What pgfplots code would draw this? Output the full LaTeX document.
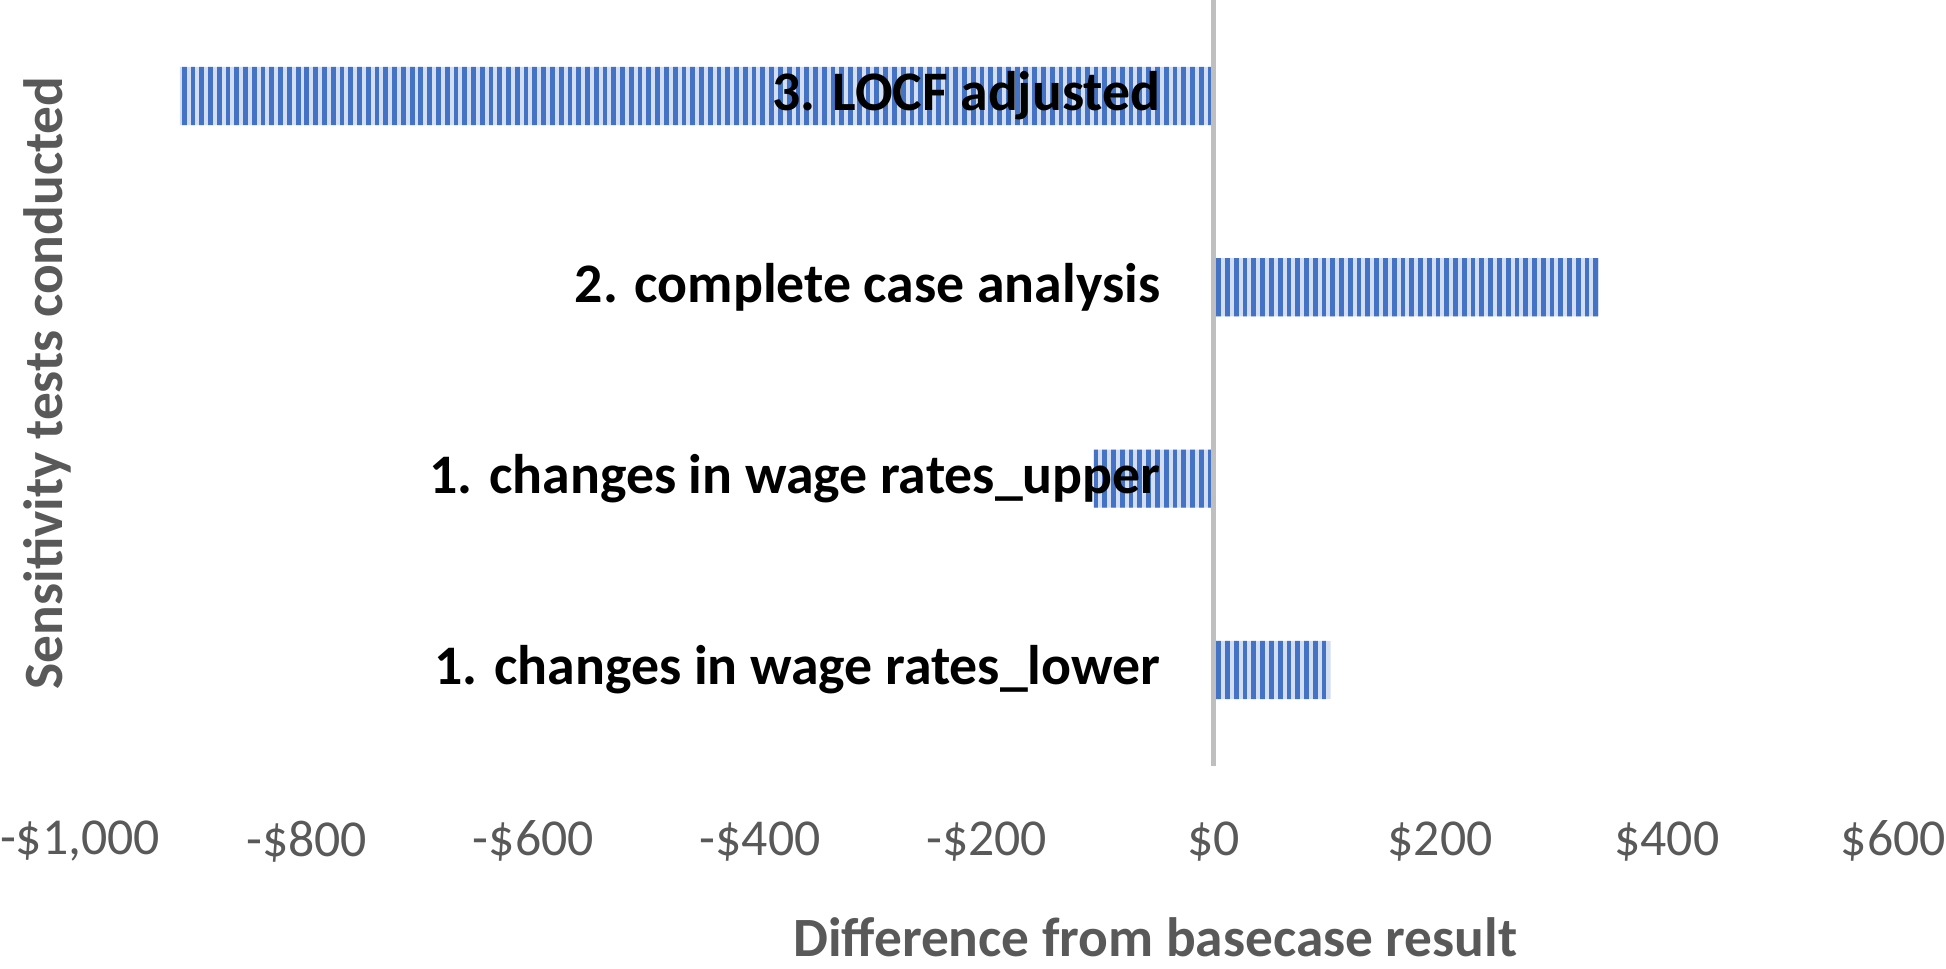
\documentclass[border=0pt]{standalone}
\usepackage{fontspec}
\setmainfont{Carlito}
\usepackage{pgfplots}
\pgfplotsset{compat=1.18}
\usetikzlibrary{patterns.meta}
\definecolor{barblue}{HTML}{4472C4}
\definecolor{barlight}{HTML}{D3DEF3}
\definecolor{axgray}{HTML}{595959}
\definecolor{zerogray}{HTML}{BFBFBF}

\begin{document}
\begin{tikzpicture}
  \begin{axis}[
      scale only axis,
      width=455pt, height=192pt,
      xmin=-1000, xmax=600,
      ymin=-0.5, ymax=3.5,
      axis line style={draw=none},
      major tick length=0pt,
      ytick=\empty,
      xtick={-1000,-800,-600,-400,-200,0,200,400,600},
      xticklabels={{-\$1,000},{-\$800},{-\$600},{-\$400},{-\$200},{\$0},{\$200},{\$400},{\$600}},
      xticklabel style={text=axgray, font=\fontsize{13}{15}\selectfont, anchor=center,
        inner sep=0pt, yshift=-19pt},
      xlabel={Difference from basecase result},
      xlabel style={at={(axis description cs:0.593,0)}, anchor=center, inner sep=3pt, yshift=-43pt,
        text=axgray, font=\bfseries\fontsize{13.9}{16}\selectfont},
      ylabel={Sensitivity tests conducted},
      ylabel style={at={(axis description cs:-0.018,0.5)}, anchor=center, inner sep=0pt,
        text=axgray, font=\bfseries\fontsize{13.9}{16}\selectfont},
    ]
    \addplot[xbar, bar width=14.6pt, bar shift=0pt, draw=none, fill=barlight,
      postaction={pattern={Lines[angle=90, distance=2.2pt, line width=1.2pt]}, pattern color=barblue}]
      coordinates {(103,0) (-106,1) (340,2) (-912,3)};
    \addplot[zerogray, line width=1.2pt] coordinates {(0,-0.5) (0,3.5)};
    \node[anchor=east, inner sep=0pt, font=\bfseries\fontsize{14}{16}\selectfont] at (axis cs:-46,0) {1. changes in wage rates\_lower};
    \node[anchor=east, inner sep=0pt, font=\bfseries\fontsize{14}{16}\selectfont] at (axis cs:-46,1) {1. changes in wage rates\_upper};
    \node[anchor=east, inner sep=0pt, font=\bfseries\fontsize{14}{16}\selectfont] at (axis cs:-46,2) {2. complete case analysis};
    \node[anchor=east, inner sep=0pt, font=\bfseries\fontsize{14}{16}\selectfont] at (axis cs:-46,3) {3. LOCF adjusted};
  \end{axis}
\end{tikzpicture}
\end{document}
